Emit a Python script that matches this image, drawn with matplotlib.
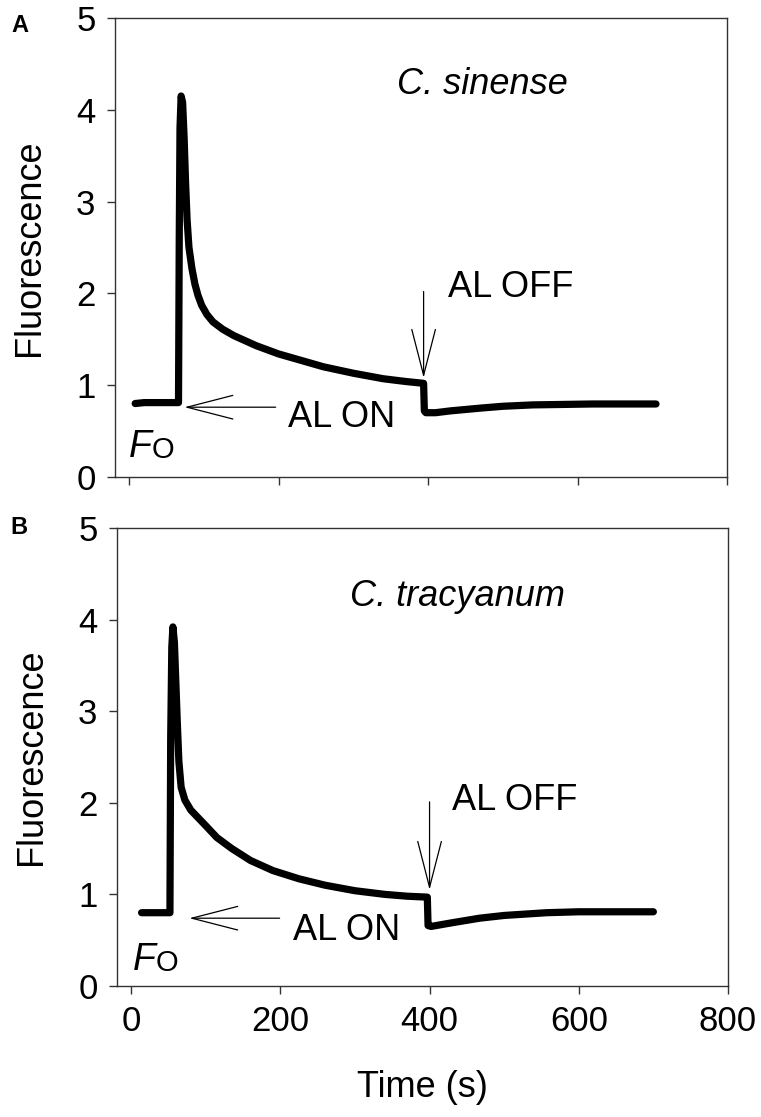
import matplotlib

matplotlib.use("Agg")
import matplotlib.pyplot as plt

plt.rcParams["font.family"] = ["Liberation Sans", "DejaVu Sans"]

# chlorophyll fluorescence traces
time_a = [8, 20, 40, 60, 66, 67, 68, 69.5, 71.5, 73.5, 75.5, 77.5, 80, 84, 88, 92, 97,
          104, 112, 125, 140, 170, 200, 230, 260, 300, 340, 370, 394, 395, 397, 410,
          430, 470, 500, 540, 580, 620, 660, 705]
fluor_a = [0.80, 0.81, 0.81, 0.81, 0.81, 2.6, 3.8, 4.15, 4.08, 3.7, 3.2, 2.8, 2.5,
           2.27, 2.1, 1.98, 1.87, 1.77, 1.69, 1.61, 1.54, 1.43, 1.34, 1.27, 1.20, 1.13,
           1.07, 1.04, 1.02, 0.72, 0.70, 0.70, 0.72, 0.75, 0.77, 0.785, 0.79, 0.795,
           0.795, 0.795]

time_b = [14, 30, 45, 52, 53, 54.5, 56, 58, 60, 62, 64, 67, 72, 80, 100, 115, 135, 160,
          190, 225, 260, 300, 340, 370, 397, 398, 402, 430, 467, 500, 557, 600, 700]
fluor_b = [0.80, 0.80, 0.80, 0.80, 2.7, 3.7, 3.92, 3.75, 3.3, 2.85, 2.45, 2.17, 2.03,
           1.92, 1.75, 1.62, 1.50, 1.37, 1.26, 1.17, 1.10, 1.04, 1.00, 0.98, 0.97,
           0.66, 0.65, 0.69, 0.74, 0.77, 0.80, 0.81, 0.81]

species = ["C. sinense", "C. tracyanum"]
panel_tags = ["A", "B"]
x_ticks = [0, 200, 400, 600, 800]
y_ticks = [0, 1, 2, 3, 4, 5]

SPINE = "#333333"
FS = 25

fig = plt.figure(figsize=(7.61, 11.17), dpi=100)
ax_a = fig.add_axes([0.1511, 0.5730, 0.8042, 0.4109])
ax_b = fig.add_axes([0.1537, 0.1173, 0.8029, 0.4100])


def style_axes(ax, show_xlabels):
    ax.set_xlim(-19, 800)
    ax.set_ylim(0, 5)
    ax.set_xticks(x_ticks)
    ax.set_yticks(y_ticks)
    ax.tick_params(direction="out", length=6, width=1, color=SPINE,
                   labelsize=FS, pad=8, top=False, right=False)
    if not show_xlabels:
        ax.tick_params(axis="x", labelbottom=False)
    for spine in ax.spines.values():
        spine.set_edgecolor(SPINE)
        spine.set_linewidth(1)
    ax.set_ylabel("Fluorescence", fontsize=26, labelpad=21)


def arrow(ax, tail, tip):
    ax.annotate("", xy=tip, xytext=tail,
                arrowprops=dict(arrowstyle="->,head_length=33,head_width=8.5",
                                mutation_scale=1, lw=0.9, color="black",
                                shrinkA=0, shrinkB=0))


def fo_label(ax, x, y):
    ax.text(x, y, "F", fontsize=27, style="italic", va="baseline", ha="left")
    ax.text(x + 31, y - 0.01, "O", fontsize=21, va="baseline", ha="left")


panels = [
    (ax_a, time_a, fluor_a, 359, 4.27, (394, 2.02), (394, 1.08), (426, 2.06),
     (196, 0.76), (74, 0.76), (212, 0.65), (-1, 0.22), False),
    (ax_b, time_b, fluor_b, 293, 4.25, (400, 2.01), (400, 1.05), (430, 2.03),
     (199, 0.74), (78, 0.74), (217, 0.61), (2, 0.17), True),
]

for i, (ax, t, f, sx, sy, off_tail, off_tip, off_txt,
        on_tail, on_tip, on_txt, fo_xy, last) in enumerate(panels):
    ax.plot(t, f, color="black", lw=5.2, solid_capstyle="round",
            solid_joinstyle="round", zorder=3)
    style_axes(ax, last)
    ax.text(sx, sy, species[i], fontsize=26, style="italic", va="center", ha="left")
    arrow(ax, off_tail, off_tip)
    ax.text(off_txt[0], off_txt[1], "AL OFF", fontsize=26, va="center", ha="left")
    arrow(ax, on_tail, on_tip)
    ax.text(on_txt[0], on_txt[1], "AL ON", fontsize=26, va="center", ha="left")
    fo_label(ax, *fo_xy)

ax_b.set_xlabel("Time (s)", fontsize=26, labelpad=23)

fig.text(20 / 761, 1 - 25 / 1117, panel_tags[0], fontsize=17, fontweight="bold",
         ha="center", va="center")
fig.text(19 / 761, 1 - 528 / 1117, panel_tags[1], fontsize=17, fontweight="bold",
         ha="center", va="center")

fig.savefig("out.png", dpi=100, facecolor="white")
